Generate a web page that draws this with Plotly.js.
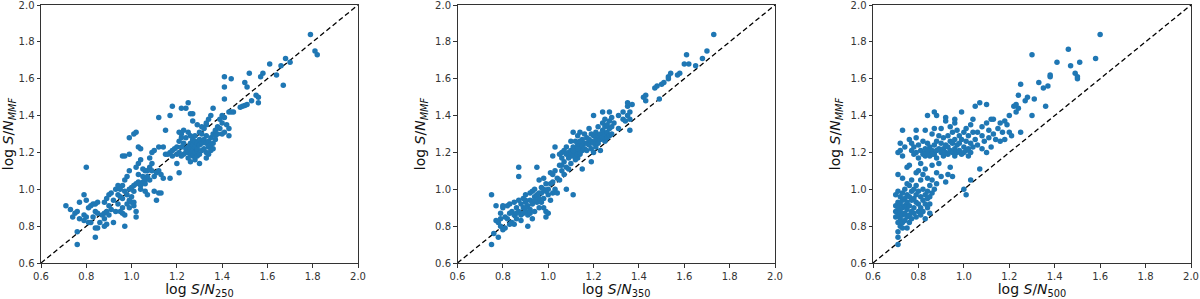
<!DOCTYPE html>
<html><head><meta charset="utf-8">
<script src="https://cdn.plot.ly/plotly-3.0.1.min.js"></script>
<style>html,body{margin:0;padding:0;background:#fff}#c{width:1200px;height:299px}</style>
</head><body><div id="c"></div>
<script>
// log S/N_250 vs log S/N_MMF
const snr250 = [
[0.71,0.91],[0.73,0.89],[0.74,0.85],[0.75,0.87],[0.76,0.70],[0.76,0.77],[0.77,0.93],[0.77,0.84],[0.76,0.88],[0.79,0.86],
[0.79,0.97],[0.80,1.12],[0.80,0.94],[0.79,0.83],[0.81,0.82],[0.80,0.85],[0.81,0.90],[0.82,0.91],[0.83,0.92],[0.84,0.92],
[0.84,0.88],[0.85,0.93],[0.85,0.87],[0.84,0.79],[0.85,0.79],[0.84,0.74],[0.83,0.85],[0.82,0.82],[0.86,0.82],[0.87,0.86],
[0.88,0.84],[0.88,0.87],[0.89,0.81],[0.88,0.80],[0.89,0.88],[0.88,0.93],[0.89,0.95],[0.90,0.97],[0.91,0.98],[0.90,0.91],
[0.90,0.86],[0.91,0.89],[0.92,0.82],[0.92,0.94],[0.93,0.88],[0.93,1.00],[0.94,1.02],[0.94,0.97],[0.94,0.92],[0.95,0.88],
[0.95,0.96],[0.96,0.95],[0.96,0.90],[0.96,0.87],[0.97,0.86],[0.97,0.80],[0.97,0.99],[0.98,0.92],[0.98,0.97],[0.99,1.00],
[0.99,0.94],[0.99,0.90],[1.00,0.96],[1.00,0.93],[1.01,0.93],[1.01,0.91],[1.02,0.85],[1.02,0.88],[1.01,0.99],[1.00,1.01],
[0.96,1.18],[0.97,1.18],[0.99,1.19],[0.98,1.07],[0.99,1.10],[0.97,1.05],[0.96,1.02],[0.95,1.00],
[1.02,1.12],[1.03,1.14],[1.03,1.23],[1.04,1.22],[1.04,1.16],[1.03,1.08],[1.03,1.04],[1.04,1.02],[1.05,1.04],[1.05,1.07],
[1.06,1.05],[1.06,1.03],[1.06,0.99],[1.07,0.97],[1.07,1.10],[1.08,1.05],[1.08,1.12],[1.09,1.14],[1.08,1.17],[1.09,1.20],
[1.10,1.21],[1.07,1.07],[1.06,1.10],[1.05,1.11],[1.09,1.10],[1.10,1.07],[1.11,1.09],[1.12,1.10],[1.10,0.99],[1.11,0.94],
[1.12,0.98],[1.13,0.98],[1.12,1.23],[1.14,1.23],[1.15,1.19],[1.16,1.19],[1.17,1.20],[1.18,1.21],[1.13,1.08],[1.14,1.06],
[1.17,1.06],[1.20,1.14],[1.21,1.09],[1.18,1.18],[1.19,1.22],[1.20,1.23],[1.21,1.26],[1.22,1.28],[1.21,1.31],[1.22,1.30],
[1.23,1.32],[1.23,1.25],[1.24,1.22],[1.24,1.20],[1.23,1.19],[1.22,1.18],[1.21,1.20],[1.20,1.19],[1.22,1.23],[1.04,1.00],
[1.02,1.03],[1.01,1.02],
[1.25,1.17],[1.25,1.20],[1.25,1.23],[1.26,1.15],[1.26,1.19],[1.26,1.22],[1.26,1.25],[1.27,1.18],[1.27,1.21],[1.27,1.24],
[1.27,1.27],[1.28,1.16],[1.28,1.20],[1.28,1.23],[1.28,1.26],[1.28,1.29],[1.29,1.18],[1.29,1.21],[1.29,1.25],[1.29,1.22],
[1.30,1.14],[1.30,1.19],[1.30,1.24],[1.30,1.27],[1.31,1.21],[1.31,1.25],[1.31,1.30],[1.32,1.22],[1.32,1.27],[1.33,1.25],
[1.33,1.20],[1.33,1.29],[1.34,1.26],[1.34,1.23],[1.35,1.24],[1.35,1.21],[1.35,1.28],[1.36,1.25],[1.36,1.22],[1.37,1.27],
[1.34,1.19],[1.33,1.17],[1.26,1.29],[1.25,1.31],[1.24,1.28],[1.27,1.37],[1.29,1.35],[1.30,1.31],[1.32,1.33],[1.31,1.34],
[1.33,1.35],[1.36,1.30],[1.37,1.32],[1.38,1.34],[1.38,1.30],[1.39,1.33],[1.40,1.36],[1.27,1.41],[1.26,1.41],[1.24,1.44],
[1.02,1.31],[1.01,1.30],[0.99,1.28],[1.25,1.47],[1.22,1.44],[1.18,1.45],[1.17,1.40],[1.12,1.39],[1.15,1.32],
[1.36,1.44],[1.40,1.40],[1.41,1.39],[1.39,1.38],[1.42,1.35],[1.43,1.33],[1.43,1.29],[1.41,1.31],[1.40,1.30],[1.37,1.29],
[1.35,1.40],[1.34,1.38],[1.33,1.36],[1.45,1.42],[1.44,1.42],[1.43,1.42],[1.49,1.45],[1.50,1.455],[1.51,1.46],[1.48,1.445],
[1.50,1.58],[1.51,1.555],[1.41,1.61],[1.41,1.555],[1.44,1.60],[1.41,1.49],[1.55,1.51],[1.56,1.50],[1.56,1.47],[1.53,1.48],
[1.58,1.63],[1.57,1.61],[1.52,1.63],[1.64,1.62],[1.67,1.565],[1.61,1.68],[1.68,1.71],[1.70,1.69],[1.66,1.67],
[1.79,1.84],[1.81,1.75],[1.82,1.73]
];
// log S/N_350 vs log S/N_MMF
const snr350 = [
[0.75,0.97],[0.75,0.70],[0.76,0.76],[0.77,0.91],[0.77,0.83],[0.78,0.82],[0.78,0.74],[0.79,0.87],[0.79,0.80],[0.80,0.91],
[0.80,0.90],[0.80,0.78],[0.81,0.79],[0.81,0.85],[0.82,0.91],[0.82,0.84],[0.83,0.87],[0.83,0.92],[0.84,0.82],[0.84,0.88],
[0.85,0.93],[0.85,0.81],[0.85,0.86],[0.86,0.90],[0.86,0.84],[0.87,1.12],[0.87,1.07],[0.87,0.94],[0.87,0.88],[0.88,0.92],
[0.88,0.86],[0.88,0.83],[0.89,0.90],[0.89,0.95],[0.89,0.87],[0.90,0.93],[0.90,0.88],[0.90,0.97],[0.91,0.80],[0.91,0.91],
[0.91,0.86],[0.92,0.98],[0.92,0.94],[0.92,0.89],[0.93,0.99],[0.93,0.92],[0.93,0.84],[0.94,1.00],[0.94,0.96],[0.94,0.88],
[0.95,0.97],[0.95,0.93],[0.95,1.12],[0.96,1.05],[0.96,0.95],[0.96,0.90],[0.97,1.01],[0.97,0.98],[0.97,0.93],[0.98,1.06],
[0.98,1.00],[0.98,0.95],[0.99,1.03],[0.99,0.88],[0.99,0.85],[1.00,0.87],[1.00,0.97],[1.00,1.00],[1.01,1.09],[1.01,1.03],
[1.01,0.94],[1.02,1.18],[1.02,1.08],[1.02,0.98],[1.03,1.23],[1.03,1.10],[1.04,1.06],[1.04,0.98],[1.05,1.05],[1.05,1.13],
[1.05,1.19],[1.06,1.20],[1.06,1.17],[1.06,1.10],[1.07,1.21],[1.07,1.15],[1.07,1.08],[1.08,1.23],[1.08,1.19],[1.08,1.12],
[1.08,1.00],[1.09,1.20],[1.09,1.17],[1.10,1.26],[1.10,1.21],[1.10,1.18],[1.10,1.14],[1.11,1.31],[1.11,1.23],[1.11,1.20],
[1.11,0.97],[1.12,1.26],[1.12,1.22],[1.12,1.19],[1.13,1.29],[1.13,1.24],[1.13,1.20],[1.13,1.17],[1.14,1.31],[1.14,1.22],
[1.14,1.19],[1.15,1.27],[1.15,1.24],[1.15,1.21],[1.15,1.11],[1.16,1.30],[1.16,1.25],[1.16,1.22],[1.17,1.28],[1.17,1.25],
[1.17,1.21],[1.18,1.33],[1.18,1.27],[1.18,1.24],[1.19,1.30],[1.19,1.26],[1.19,1.22],[1.19,1.15],[1.20,1.40],[1.20,1.29],
[1.20,1.25],[1.20,1.20],[1.21,1.31],[1.21,1.27],[1.21,1.23],[1.22,1.34],[1.22,1.29],[1.22,1.25],[1.23,1.30],[1.23,1.27],
[1.23,1.21],[1.24,1.42],[1.24,1.36],[1.24,1.32],[1.24,1.28],[1.25,1.38],[1.25,1.34],[1.25,1.30],[1.25,1.26],[1.26,1.35],
[1.26,1.31],[1.26,1.28],[1.27,1.42],[1.27,1.37],[1.27,1.33],[1.27,1.29],[1.28,1.39],[1.28,1.34],[1.28,1.30],[1.29,1.36],
[1.31,1.33],[1.31,1.40],[1.33,1.38],[1.33,1.42],[1.34,1.37],[1.35,1.45],[1.35,1.47],[1.35,1.40],[1.36,1.38],[1.36,1.42],
[1.37,1.46],[1.36,1.32],[1.42,1.50],[1.43,1.48],[1.43,1.51],[1.47,1.55],[1.48,1.56],[1.49,1.49],[1.50,1.57],[1.51,1.58],
[1.53,1.60],[1.54,1.63],[1.53,1.61],[1.57,1.62],[1.58,1.63],[1.60,1.68],[1.61,1.73],[1.62,1.68],[1.65,1.67],[1.68,1.71],
[1.70,1.75],[1.73,1.84],[1.02,1.04],[1.03,1.00],[0.99,0.99],[1.09,1.11],[1.12,1.16],[1.14,1.26],[1.06,1.13],
[1.10,1.19],[1.11,1.18],[1.12,1.20],[1.12,1.21],[1.13,1.19],[1.11,1.21],[1.14,1.20],[1.13,1.22],
[0.79,0.84],[0.83,0.81],[0.86,0.87],[0.90,0.90],[0.92,0.87],[0.94,0.94],[0.96,0.98],[0.98,0.90],[0.90,0.94]
];
// log S/N_500 vs log S/N_MMF
const snr500 = [
[0.70,0.97],[0.70,0.91],[0.70,0.88],[0.70,0.85],[0.71,0.70],[0.71,0.74],[0.71,0.77],[0.71,0.82],[0.71,0.86],[0.71,0.90],
[0.71,0.93],[0.71,0.99],[0.71,1.08],[0.71,1.20],[0.72,1.21],[0.72,1.25],[0.72,0.96],[0.72,0.92],[0.72,0.88],[0.72,0.84],
[0.72,0.80],[0.73,0.98],[0.73,0.94],[0.73,0.90],[0.73,0.86],[0.73,0.82],[0.73,0.79],[0.73,1.06],[0.73,1.18],[0.73,1.32],
[0.74,1.23],[0.74,1.00],[0.74,0.95],[0.74,0.91],[0.74,0.87],[0.74,0.83],[0.75,0.79],[0.75,1.03],[0.75,0.97],[0.75,0.93],
[0.75,0.89],[0.75,0.85],[0.75,1.12],[0.76,1.13],[0.76,1.27],[0.76,1.02],[0.76,0.96],[0.76,0.91],[0.76,0.86],[0.76,0.82],
[0.77,1.25],[0.77,1.21],[0.77,1.05],[0.77,0.99],[0.77,0.94],[0.77,0.88],[0.77,0.84],[0.78,1.23],[0.78,1.19],[0.78,1.00],
[0.78,0.95],[0.78,0.90],[0.78,0.87],[0.79,1.32],[0.79,1.28],[0.79,1.20],[0.79,1.09],[0.79,1.02],[0.79,0.97],[0.79,0.93],
[0.79,0.85],[0.80,1.24],[0.80,1.17],[0.80,1.10],[0.80,0.99],[0.80,0.92],[0.80,0.88],[0.81,1.21],[0.81,1.14],[0.81,1.05],
[0.81,0.96],[0.81,0.90],[0.81,0.86],[0.82,1.26],[0.82,1.19],[0.82,1.08],[0.82,1.00],[0.82,0.94],[0.82,0.88],[0.83,1.32],
[0.83,1.22],[0.83,1.18],[0.83,1.11],[0.83,0.97],[0.83,0.92],[0.83,0.84],[0.84,1.40],[0.84,1.25],[0.84,1.20],[0.84,1.06],
[0.84,0.99],[0.84,0.95],[0.84,0.90],[0.85,1.23],[0.85,1.19],[0.85,1.02],[0.85,0.96],[0.85,0.92],[0.85,0.87],[0.86,1.30],
[0.86,1.21],[0.86,1.13],[0.86,1.05],[0.86,0.98],[0.87,1.42],[0.87,1.33],[0.87,1.24],[0.87,1.19],[0.87,1.00],[0.88,1.40],
[0.88,1.26],[0.88,1.21],[0.88,1.17],[0.88,1.09],[0.88,1.03],[0.89,1.29],[0.89,1.22],[0.89,1.14],[0.90,1.33],[0.90,1.25],
[0.90,1.20],[0.90,1.07],[0.91,1.28],[0.91,1.22],[0.91,1.18],[0.92,1.39],[0.92,1.37],[0.92,1.24],[0.92,1.20],[0.92,1.04],
[0.93,1.29],[0.93,1.23],[0.93,1.19],[0.93,1.08],[0.94,1.34],[0.94,1.26],[0.94,1.21],[0.94,1.12],[0.95,1.31],[0.95,1.25],
[0.95,1.20],[0.95,1.07],[0.96,1.38],[0.96,1.36],[0.96,1.27],[0.96,1.22],[0.96,1.18],[0.97,1.32],[0.97,1.24],[0.97,1.20],
[0.98,1.29],[0.98,1.25],[0.98,1.21],[0.99,1.42],[0.99,1.27],[0.99,1.19],[1.00,1.31],[1.00,1.23],[1.00,1.20],[1.00,1.00],
[1.01,1.33],[1.01,1.26],[1.01,1.21],[1.01,0.97],[1.02,1.29],[1.02,1.22],[1.02,1.18],[1.03,1.35],[1.03,1.25],[1.03,1.20],
[1.03,1.05],[1.04,1.38],[1.04,1.31],[1.04,1.23],[1.05,1.45],[1.05,1.27],[1.06,1.31],[1.06,1.24],[1.07,1.47],[1.07,1.11],
[1.08,1.34],[1.08,1.29],[1.08,1.22],[1.09,1.26],[1.10,1.46],[1.10,1.36],[1.10,1.20],[1.11,1.32],[1.11,1.28],[1.12,1.38],
[1.12,1.23],[1.13,1.38],[1.13,1.30],[1.14,1.27],[1.15,1.33],[1.16,1.36],[1.16,1.26],[1.17,1.31],[1.18,1.37],[1.18,1.27],
[1.19,1.35],[1.20,1.40],[1.20,1.31],[1.21,1.29],[1.22,1.45],[1.23,1.46],[1.23,1.42],[1.24,1.51],[1.24,1.44],[1.25,1.57],
[1.25,1.31],[1.27,1.48],[1.28,1.50],[1.30,1.40],[1.30,1.73],[1.31,1.49],[1.33,1.58],[1.35,1.55],[1.36,1.45],[1.37,1.56],
[1.38,1.62],[1.38,1.61],[1.41,1.69],[1.46,1.76],[1.47,1.67],[1.49,1.63],[1.50,1.61],[1.50,1.60],[1.51,1.69],[1.58,1.71],
[1.60,1.84],[0.83,1.20],[0.84,1.21],[0.85,1.18],[0.86,1.19],[0.84,1.19]
];
const xTitles = ['log <i>S</i>/<i>N</i><sub>250</sub>','log <i>S</i>/<i>N</i><sub>350</sub>','log <i>S</i>/<i>N</i><sub>500</sub>'];
const yTitle = 'log <i>S</i>/<i>N</i><sub><i>MMF</i></sub>';
const tickVals = [0.6,0.8,1.0,1.2,1.4,1.6,1.8,2.0];
const diag = [0.6, 2.0];

const sets = [snr250, snr350, snr500];
const domains = [[41/1200, 358/1200],[457.5/1200, 775/1200],[873/1200, 1191/1200]];
const traces = [];
const layout = {
  width:1200, height:299, margin:{l:0,r:0,t:5,b:36},
  paper_bgcolor:'#fff', plot_bgcolor:'#fff', showlegend:false,
  font:{family:'DejaVu Sans', color:'#333', size:10}
};
sets.forEach((s,i)=>{
  const xa = i===0?'x':'x'+(i+1), ya = i===0?'y':'y'+(i+1);
  traces.push({type:'scatter', mode:'lines', x:diag, y:diag, xaxis:xa, yaxis:ya,
    line:{color:'#000', width:1.3, dash:'5px,3px'}, hoverinfo:'skip'});
  traces.push({type:'scatter', mode:'markers', x:s.map(p=>p[0]), y:s.map(p=>p[1]), xaxis:xa, yaxis:ya,
    marker:{color:'#1f77b4', size:5.5, line:{width:0}}});
  const common = {range:[0.6,2.0], tickvals:tickVals, tickformat:'.1f', showgrid:false, zeroline:false,
    showline:true, mirror:true, linecolor:'#333', linewidth:1, ticks:'outside', ticklen:3.5, tickwidth:1, tickcolor:'#333',
    ticklabeloverflow:'allow',
    tickfont:{family:'DejaVu Sans', size:10, color:'#333'}, automargin:false};
  layout['xaxis'+(i===0?'':i+1)] = Object.assign({}, common, {domain:domains[i], anchor:ya,
    title:{text:xTitles[i], font:{family:'DejaVu Sans', size:14, color:'#111'}, standoff:6}});
  layout['yaxis'+(i===0?'':i+1)] = Object.assign({}, common, {domain:[0,1], anchor:xa,
    title:{text:yTitle, font:{family:'DejaVu Sans', size:14, color:'#111'}, standoff:6}});
});
Plotly.newPlot('c', traces, layout, {staticPlot:true, displayModeBar:false});
</script></body></html>
